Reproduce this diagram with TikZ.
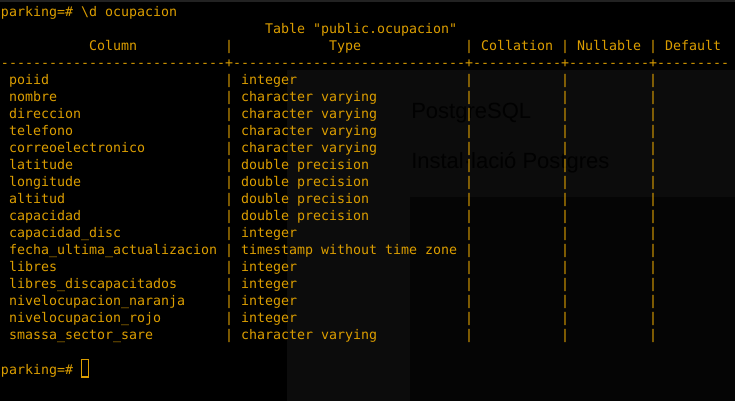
\documentclass[tikz,border=0pt]{standalone}
\usepackage{fontspec}
\setmonofont{DejaVu Sans Mono}
\newfontfamily\ghostfont{Liberation Sans}
\usetikzlibrary{positioning}
\definecolor{termorange}{RGB}{220,158,0}
\definecolor{overlaygrey}{RGB}{12,12,12}
\definecolor{windowgrey}{RGB}{5,5,5}
\definecolor{edgegrey}{RGB}{34,34,34}
\definecolor{ghostgrey}{RGB}{1,1,1}

\begin{document}
\begin{tikzpicture}[x=0.75pt,y=-0.75pt,
      termtext/.style={
         anchor=base west,
         inner sep=0pt,
         outer sep=0pt,
         text=termorange,
         font=\ttfamily\fontsize{9.97pt}{12pt}\selectfont},
      ghosttext/.style={
         anchor=base west,
         inner sep=0pt,
         text=ghostgrey,
         font=\ghostfont\fontsize{16.5pt}{20pt}\selectfont},
      cursorbox/.style={draw=termorange,line width=0.8pt},
      ]
      % background and faint windows behind the terminal
      \fill[black] (0,0) rectangle (735,401);
      \fill[edgegrey] (0,0) rectangle (735,2);
      \fill[overlaygrey] (287,70) rectangle (735,401);
      \fill[windowgrey] (410,197) rectangle (735,401);
      \node[ghosttext] (g1) at (411,118) {PostgreSQL};
      \node[ghosttext] (g2) at (411,168) {Instal·lació Postgres};
      % prompt, title and header
      \node[termtext] (p1) at (1,16) {parking=\# \textbackslash d ocupacion};
      \node[termtext] (t1) at ({1+8*33},{16+17.05*1}) {Table "public.ocupacion"};
      \node[termtext] (h1) at ({1+8*11},{16+17.05*2}) {Column};
      \node[termtext] (h2) at ({1+8*41},{16+17.05*2}) {Type};
      \node[termtext] (h3) at ({1+8*60},{16+17.05*2}) {Collation};
      \node[termtext] (h4) at ({1+8*72},{16+17.05*2}) {Nullable};
      \node[termtext] (h5) at ({1+8*83},{16+17.05*2}) {Default};
      % separator line
    \foreach \c in {0,...,90} {
      \ifnum\c=28 \def\ch{+}\else\ifnum\c=58 \def\ch{+}\else
      \ifnum\c=70 \def\ch{+}\else\ifnum\c=81 \def\ch{+}\else
      \def\ch{-}\fi\fi\fi\fi
       \node[termtext] (d\c) at ({1+8*\c},{16+17.05*3}) {\ch};
    }
      % rows
    \foreach \name/\type [count=\r from 4] in {
      poiid/integer,
      nombre/character varying,
      direccion/character varying,
      telefono/character varying,
      correoelectronico/character varying,
      latitude/double precision,
      longitude/double precision,
      altitud/double precision,
      capacidad/double precision,
      capacidad\_disc/integer,
      fecha\_ultima\_actualizacion/timestamp without time zone,
      libres/integer,
      libres\_discapacitados/integer,
      nivelocupacion\_naranja/integer,
      nivelocupacion\_rojo/integer,
      smassa\_sector\_sare/character varying} {
       \node[termtext] (n\r) at ({1+8*1},{16+17.05*\r}) {\name};
       \node[termtext] (y\r) at ({1+8*30},{16+17.05*\r}) {\type};
    }
      % column bars
    \foreach \r in {2,4,5,...,19}
      \foreach \c in {28,58,70,81}
       \node[termtext] (b\r-\c) at ({1+8*\c},{16+17.05*\r}) {|};
      % final prompt with cursor
      \node[termtext] (p2) at (1,{16+17.05*21}) {parking=\#};
      \draw[cursorbox] (81.5,359.5) rectangle (88.5,377);
\end{tikzpicture}
\end{document}
